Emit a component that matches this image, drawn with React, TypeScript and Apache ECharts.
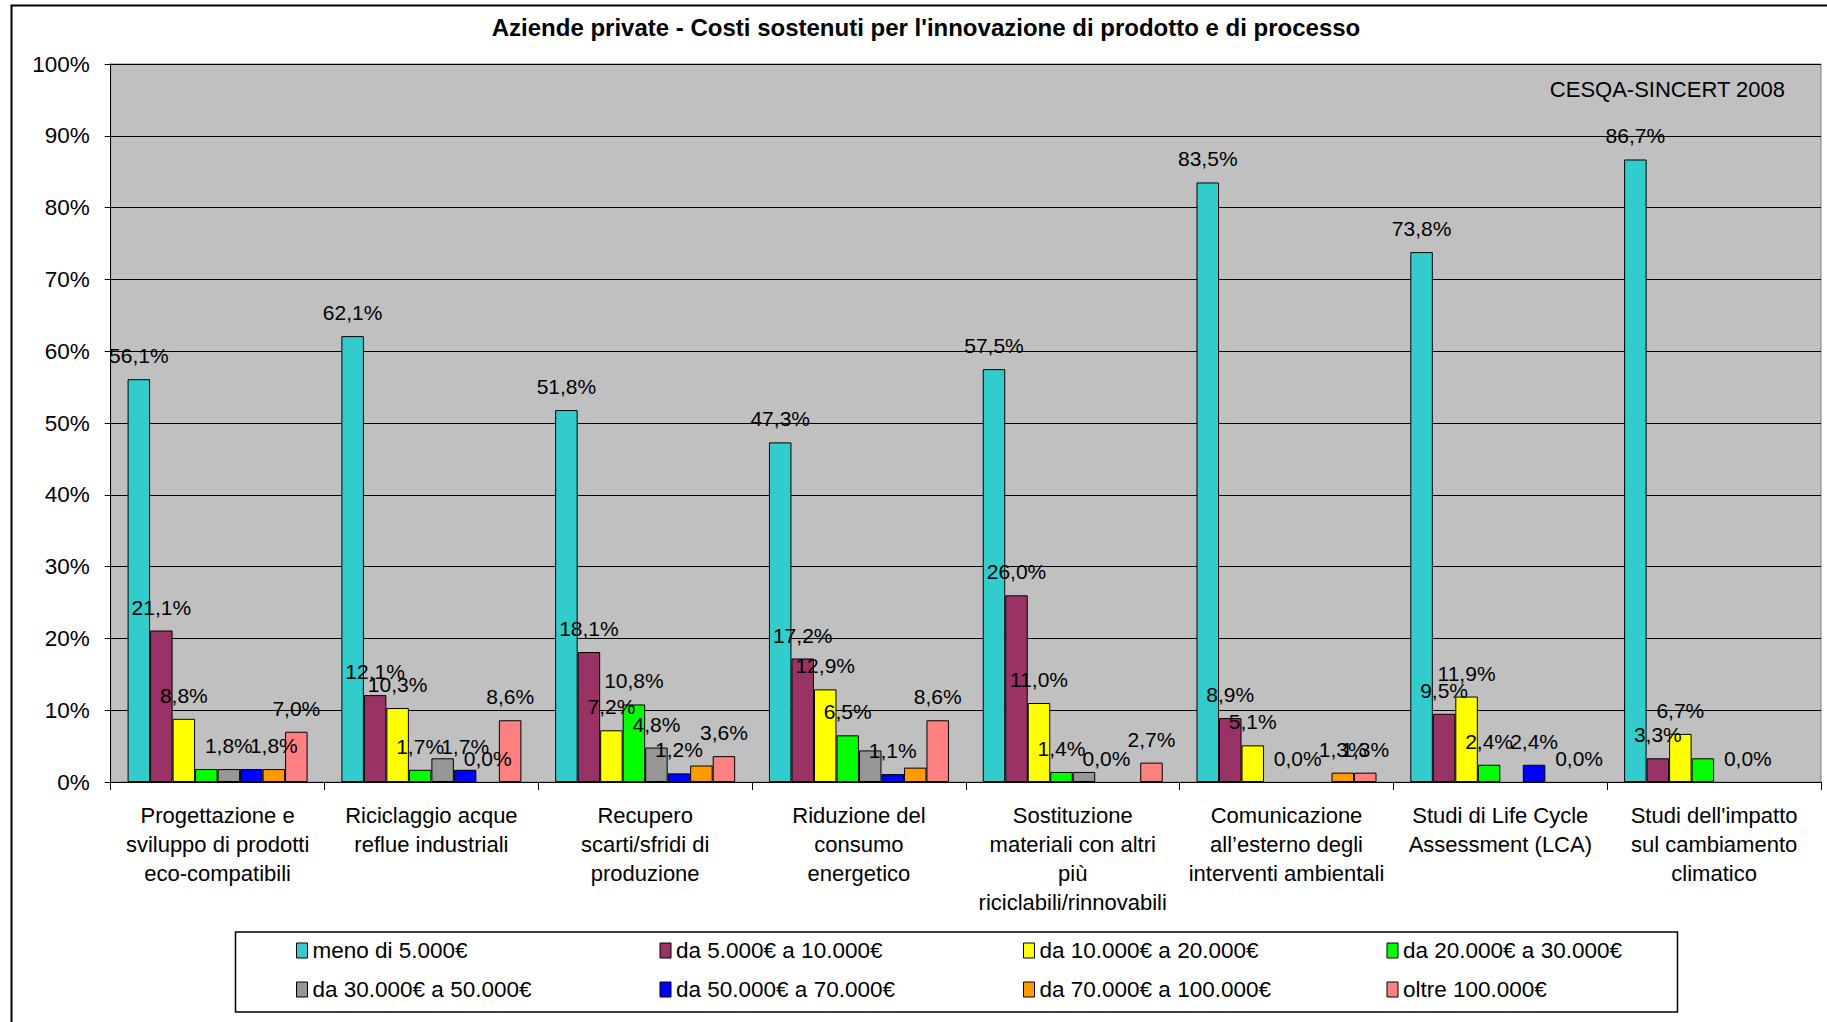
import React, { useEffect, useRef } from "react";
import * as echarts from "echarts";

const titleText = "Aziende private - Costi sostenuti per l'innovazione di prodotto e di processo";
const sourceText = "CESQA-SINCERT 2008";

const categories = [
  "Progettazione e\nsviluppo di prodotti\neco-compatibili",
  "Riciclaggio acque\nreflue industriali",
  "Recupero\nscarti/sfridi di\nproduzione",
  "Riduzione del\nconsumo\nenergetico",
  "Sostituzione\nmateriali con altri\npiù\nriciclabili/rinnovabili",
  "Comunicazione\nall’esterno degli\ninterventi ambientali",
  "Studi di Life Cycle\nAssessment (LCA)",
  "Studi dell'impatto\nsul cambiamento\nclimatico",
];

const seriesNames = [
  "meno di 5.000€",
  "da 5.000€ a 10.000€",
  "da 10.000€ a 20.000€",
  "da 20.000€ a 30.000€",
  "da 30.000€ a 50.000€",
  "da 50.000€ a 70.000€",
  "da 70.000€ a 100.000€",
  "oltre 100.000€",
];

const seriesColors = ["#33CCCC", "#993366", "#FFFF00", "#00FF00", "#969696", "#0000FF", "#FF9900", "#FF8080"];

const meno5k = [56.1, 62.1, 51.8, 47.3, 57.5, 83.5, 73.8, 86.7];
const da5a10k = [21.1, 12.1, 18.1, 17.2, 26.0, 8.9, 9.5, 3.3];
const da10a20k = [8.8, 10.3, 7.2, 12.9, 11.0, 5.1, 11.9, 6.7];
const da20a30k = [1.8, 1.7, 10.8, 6.5, 1.4, null, 2.4, 3.3];
const da30a50k = [1.8, 3.3, 4.8, 4.4, 1.4, 0.0, null, null];
const da50a70k = [1.8, 1.7, 1.2, 1.1, 0.0, null, 2.4, 0.0];
const da70a100k = [1.8, 0.0, 2.3, 2.0, null, 1.3, null, null];
const oltre100k = [7.0, 8.6, 3.6, 8.6, 2.7, 1.3, 0.0, null];

const seriesValues = [meno5k, da5a10k, da10a20k, da20a30k, da30a50k, da50a70k, da70a100k, oltre100k];

// [seriesIndex, categoryIndex] of values whose data label is not shown in the original
const hiddenLabels = [
  [3, 0], [5, 0],
  [4, 1],
  [6, 2],
  [4, 3], [6, 3],
  [4, 4],
  [3, 7],
];

const yTicks = [0, 10, 20, 30, 40, 50, 60, 70, 80, 90, 100];

const FONT = "'Liberation Sans', Arial, sans-serif";

export default function App() {
  const ref = useRef<HTMLDivElement>(null);

  useEffect(() => {
    if (!ref.current) return;
    const chart = echarts.init(ref.current, null, { renderer: "svg" });

    const fmt = (v: number) => v.toFixed(1).replace(".", ",") + "%";

    const series = seriesValues.map((vals, si) => ({
      name: seriesNames[si],
      type: "bar",
      barGap: "0%",
      barCategoryGap: "15.8%",
      itemStyle: { color: seriesColors[si], borderColor: "#000", borderWidth: 1 },
      label: {
        show: true,
        position: "top",
        distance: 13,
        color: "#000",
        fontSize: 21,
        fontFamily: FONT,
        formatter: (p: any) => fmt(p.value),
      },
      data: vals.map((v, ci) => {
        if (v === null) return null;
        const hidden = hiddenLabels.some(([s, c]) => s === si && c === ci);
        const item: any = { value: v };
        if (hidden) item.label = { show: false };
        if (v === 0) item.itemStyle = { borderWidth: 0 };
        return item;
      }),
    }));

    chart.setOption({
      animation: false,
      backgroundColor: "#fff",
      textStyle: { fontFamily: FONT },
      grid: {
        left: 110.7,
        right: 6,
        top: 64,
        bottom: 240,
        show: true,
        backgroundColor: "#C0C0C0",
        borderColor: "#808080",
        borderWidth: 1,
        containLabel: false,
      },
      legend: {
        data: seriesNames,
        left: 296,
        top: 931,
        width: 1460,
        orient: "horizontal",
        itemGap: 0,
        itemWidth: 11,
        itemHeight: 15,
        padding: 0,
        icon: "rect",
        itemStyle: { borderColor: "#000", borderWidth: 1 },
        textStyle: { fontSize: 22.5, color: "#000", fontFamily: FONT, width: 347, lineHeight: 39 },
      },
      xAxis: {
        type: "category",
        data: categories,
        axisLine: { show: true, lineStyle: { color: "#000", width: 1 } },
        axisTick: { show: true, alignWithLabel: false, length: 8, lineStyle: { color: "#000" } },
        axisLabel: {
          interval: 0,
          color: "#000",
          fontSize: 22,
          lineHeight: 29,
          margin: 19,
          fontFamily: FONT,
        },
        splitLine: { show: false },
      },
      yAxis: {
        type: "value",
        min: yTicks[0],
        max: yTicks[yTicks.length - 1],
        interval: 10,
        axisLine: { show: true, lineStyle: { color: "#000", width: 1 } },
        axisTick: { show: true, length: 6, lineStyle: { color: "#000" } },
        axisLabel: {
          color: "#000",
          fontSize: 22.5,
          margin: 21,
          fontFamily: FONT,
          formatter: (v: number) => v + "%",
        },
        splitLine: { show: true, lineStyle: { color: "#000", width: 1 } },
      },
      graphic: [
        {
          type: "rect",
          left: 9,
          top: 3,
          shape: { x: 0, y: 0, width: 1900, height: 1100 },
          style: { fill: "none", stroke: "#000", lineWidth: 2 },
          silent: true,
          z: 100,
        },
        {
          type: "rect",
          shape: { x: 235.5, y: 932, width: 1442, height: 80 },
          style: { fill: "none", stroke: "#000", lineWidth: 1.5 },
          silent: true,
          z: 100,
        },
        {
          type: "text",
          x: 926,
          y: 27,
          style: {
            text: titleText,
            font: "bold 24px " + FONT,
            fill: "#000",
            align: "center",
            verticalAlign: "middle",
            textAlign: "center",
            textVerticalAlign: "middle",
          },
          z: 100,
        },
        {
          type: "text",
          x: 1785,
          y: 89,
          style: {
            text: sourceText,
            font: "22px " + FONT,
            fill: "#000",
            align: "right",
            verticalAlign: "middle",
            textAlign: "right",
            textVerticalAlign: "middle",
          },
          z: 100,
        },
      ],
      series,
    });

    return () => chart.dispose();
  }, []);

  return (
    <div
      ref={ref}
      style={{ position: "fixed", left: 0, top: 0, width: 1827, height: 1022, background: "#fff" }}
    />
  );
}
